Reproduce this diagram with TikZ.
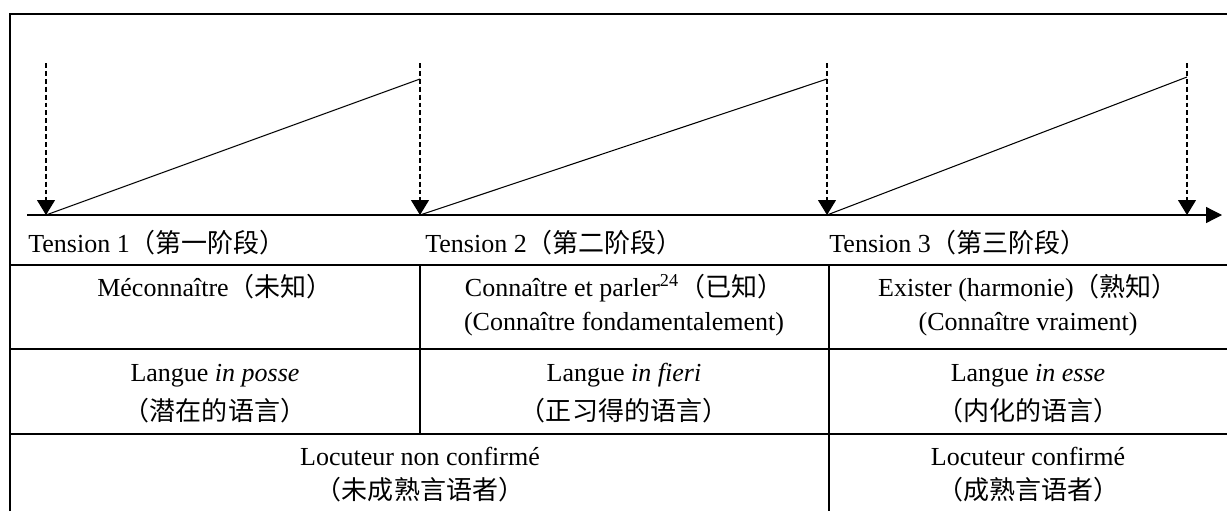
\documentclass[tikz,border=0pt]{standalone}
\usepackage{fontspec}
\setmainfont{Liberation Serif}
\newfontfamily\cjk{Noto Sans CJK SC}
\usetikzlibrary{arrows.meta}
\newcommand{\zh}[1]{{\cjk #1}}

\begin{document}
\begin{tikzpicture}[x=0.02cm,y=-0.02cm,
        every node/.style={font=\fontsize{14.8pt}{18pt}\selectfont},
        frame/.style={line width=1.2pt},
        slope/.style={line width=0.6pt},
        axis/.style={line width=0.7pt,-{Triangle[length=0.32cm,width=0.32cm]}},
        drop/.style={line width=0.6pt,dash pattern=on 2.8pt off 1.7pt,-{Triangle[length=0.3cm,width=0.36cm]}},
        txt/.style={anchor=base,inner sep=0pt},
        lbl/.style={txt,anchor=base west}]
    \useasboundingbox (0,0) rectangle (1227,511);
    % Frame and table
    \draw[frame] (10,511) -- (10,14) -- (1227,14);
    \foreach \y in {265,349,434} \draw[frame] (10,\y) -- (1227,\y);
    \draw[frame] (420,265) -- (420,434);
    \draw[frame] (829,265) -- (829,511);
    % Time axis
    \coordinate (start) at (27,215);
    \coordinate (end) at (1222,215);
    \draw[axis] (start) -- (end);
    \foreach \n/\x/\h in {1/46/79,2/420/79,3/827/79,4/1187/77} {
        \coordinate (t\n) at (\x,215);
        \coordinate (d\n) at (\x,63);
        \coordinate (p\n) at (\x,\h);
        \draw[drop] (d\n) -- (t\n);
    }
    \draw[slope] (t1) -- (p2);
    \draw[slope] (t2) -- (p3);
    \draw[slope] (t3) -- (p4);
    % Stages
    \node[lbl] (ten1) at (28,252) {Tension 1\zh{（第一阶段）}};
    \node[lbl] (ten2) at (425,252) {Tension 2\zh{（第二阶段）}};
    \node[lbl] (ten3) at (829,252) {Tension 3\zh{（第三阶段）}};
    % Row 1
    \node[txt] (know1) at (215,296) {Méconnaître\zh{（未知）}};
    \node[txt] (know2) at (624,296) {Connaître et parler\textsuperscript{24}\zh{（已知）}};
    \node[txt] (know2b) at (624,330) {(Connaître fondamentalement)};
    \node[txt] (know3) at (1028,296) {Exister (harmonie)\zh{（熟知）}};
    \node[txt] (know3b) at (1028,330) {(Connaître vraiment)};
    % Row 2
    \node[txt] (lang1) at (215,381) {Langue \textit{in posse}};
    \node[txt] (lang1b) at (215,420) {\zh{（潜在的语言）}};
    \node[txt] (lang2) at (624,381) {Langue \textit{in fieri}};
    \node[txt] (lang2b) at (624,420) {\zh{（正习得的语言）}};
    \node[txt] (lang3) at (1028,381) {Langue \textit{in esse}};
    \node[txt] (lang3b) at (1028,420) {\zh{（内化的语言）}};
    % Row 3
    \node[txt] (spk1) at (420,465) {Locuteur non confirmé};
    \node[txt] (spk1b) at (420,499) {\zh{（未成熟言语者）}};
    \node[txt] (spk2) at (1028,465) {Locuteur confirmé};
    \node[txt] (spk2b) at (1028,499) {\zh{（成熟言语者）}};
\end{tikzpicture}
\end{document}
